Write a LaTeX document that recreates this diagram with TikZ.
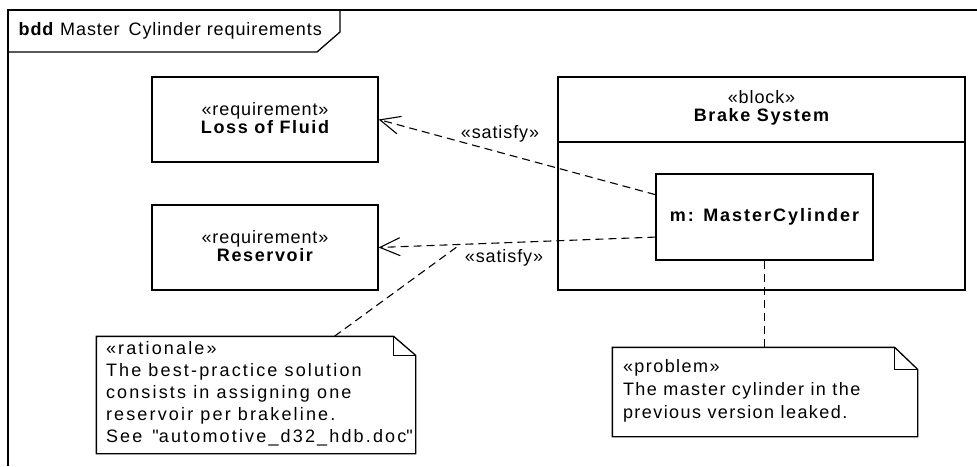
\documentclass[tikz,border=0pt]{standalone}
\usepackage{fontspec}
\setmainfont{Liberation Sans}[LetterSpace=5]
\usetikzlibrary{arrows.meta,calc}
\newcommand{\bsp}[1]{{\bfseries\addfontfeature{LetterSpace=9}#1}}
\newcommand{\dquote}{\XeTeXglyph\XeTeXcharglyph"22\relax}
\begin{document}
\begin{tikzpicture}[x=1pt,y=-1pt,line width=1.3pt,
  every node/.style={font=\fontsize{18}{18}\selectfont, inner sep=0pt},
  box/.style={draw, rectangle, line width=1.3pt},
  dep/.style={dash pattern=on 8pt off 5pt, line width=1.1pt},
  opentip/.style={-{Straight Barb[length=20pt,width=18pt,line width=1.1pt]}},
  notetext/.style={anchor=north west, align=left, font=\fontsize{18}{22}\selectfont\addfontfeature{LetterSpace=12}}]
\useasboundingbox (0,0) rectangle (977,466);
% frame
\coordinate (fbl) at (8,466);
\coordinate (ftl) at (8,10);
\coordinate (ftr) at (977,10);
\draw (fbl) -- (ftl) -- (ftr);
\draw (8,52) -- (317,52) -- (340,32) -- (340,10);
\node[anchor=west] (title) at (18,31) {\textbf{bdd} Master\, Cylinder requirements};

% requirements
\node[box, minimum width=226pt, minimum height=85pt] (lof) at (265,119.5) {};
\node[align=center] (loftext) at (265,118) {«requirement»\\\bsp{Loss of Fluid}};
\node[box, minimum width=226pt, minimum height=85pt] (res) at (265,247.5) {};
\node[align=center] (restext) at (265,246) {«requirement»\\\bsp{Reservoir}};

% block
\node[box, minimum width=407pt, minimum height=213pt] (bs) at (761.5,183.5) {};
\draw (558,142) -- (965,142);
\node[align=center] (bshead) at (761.5,108) {«block»\\\bsp{Brake System}};
\node[box, minimum width=217pt, minimum height=86pt] (mc) at (764.5,217) {\bfseries\addfontfeature{LetterSpace=11}m: MasterCylinder};

% satisfy dependencies
\coordinate (s1) at ($(mc.north west)!0.244!(mc.south west)$);
\coordinate (s2) at ($(mc.north west)!0.73!(mc.south west)$);
\draw[dep, opentip] (s1) -- (lof.east);
\draw[dep, opentip] (s2) -- (res.east);
\node (sat1) at (500,134) {«satisfy»};
\node (sat2) at (504,258) {«satisfy»};

% rationale note
\node[minimum width=318pt, minimum height=116pt] (rat) at (256,395) {};
\draw (rat.south west) -- (rat.north west) -- ($(rat.north east)+(-22,0)$) -- ($(rat.north east)+(0,19)$) -- (rat.south east) -- cycle;
\draw ($(rat.north east)+(-22,0)$) |- ($(rat.north east)+(0,19)$);
\node[notetext] (rattext) at ($(rat.north west)+(9,4)$) {«rationale»\\The best-practice solution\\consists in assigning one\\reservoir per brakeline.\\See\, \dquote automotive\_d32\_hdb.doc\dquote};
\coordinate (ratanchor) at ($(rat.north west)+(238,0)$);
\coordinate (satpt) at ($(s2)!0.705!(res.east)$);
\draw[dep] (ratanchor) -- (satpt);

% problem note
\node[minimum width=304pt, minimum height=88pt] (prob) at (765,392) {};
\draw (prob.south west) -- (prob.north west) -- ($(prob.north east)+(-23,0)$) -- ($(prob.north east)+(0,22)$) -- (prob.south east) -- cycle;
\draw ($(prob.north east)+(-23,0)$) |- ($(prob.north east)+(0,22)$);
\node[notetext, font=\fontsize{18}{23}\selectfont\addfontfeature{LetterSpace=8}] (probtext) at ($(prob.north west)+(10,11)$) {«problem»\\The master cylinder in the\\previous version leaked.};
\draw[dep] (mc.south) -- (mc.south |- prob.north);
\end{tikzpicture}
\end{document}
